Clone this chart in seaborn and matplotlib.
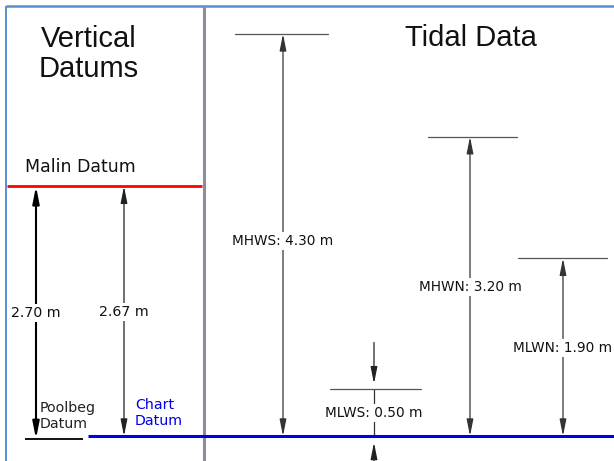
import matplotlib
matplotlib.use("Agg")
import matplotlib.pyplot as plt
import seaborn as sns
import pandas as pd

# ---- data (metres above Chart Datum) ----
datum_names = ["Malin Datum", "Poolbeg Datum", "Chart Datum"]
datum_heights = [2.67, -0.03, 0.0]
offset_labels = ["2.70 m", "2.67 m"]
tide_names = ["MHWS", "MLWS", "MHWN", "MLWN"]
tide_values = [4.30, 0.50, 3.20, 1.90]

# pixel scale of the original drawing
PX_PER_M = 93.5
BASE_PX = 436


def ym(p):
    # pixel row -> metres
    return (BASE_PX - p) / PX_PER_M


sns.set_theme(style="white")
plt.rcParams["font.family"] = ["DejaVu Sans"]

fig = plt.figure(figsize=(6.14, 4.61), dpi=100)
ax = fig.add_axes([0, 0, 1, 1])
ax.set_xlim(0, 614)
ax.set_ylim(ym(461), ym(0))
ax.axis("off")

# ---- frame ----
frame_blue = "#5b8bd0"
ax.plot([6, 6], [ym(6), ym(461)], color=frame_blue, lw=1.4, solid_capstyle="butt")
ax.plot([6, 614], [ym(6), ym(6)], color=frame_blue, lw=1.8, solid_capstyle="butt")
ax.plot([203.5, 203.5], [ym(6), ym(461)], color="#8c8c9c", lw=2.2, solid_capstyle="butt")

# ---- datum lines ----
malin, poolbeg, chart = datum_heights
lines = pd.DataFrame({
    "name": datum_names,
    "x0": [7, 25, 88],
    "x1": [202, 83, 614],
    "h": datum_heights,
    "color": ["#ff0000", "black", "#0000e0"],
    "lw": [2.0, 1.3, 2.2],
})
for _, r in lines.iterrows():
    sns.lineplot(x=[r.x0, r.x1], y=[r.h, r.h], ax=ax, color=r.color,
                 lw=r.lw, solid_capstyle="butt")

# ---- tidal level ticks ----
tick_x = {"MHWS": (235, 328), "MLWS": (330, 421), "MHWN": (428, 517), "MLWN": (518, 607)}
for name, val in zip(tide_names, tide_values):
    x0, x1 = tick_x[name]
    sns.lineplot(x=[x0, x1], y=[val, val], ax=ax, color="#555555", lw=0.9)

arrow_kw = dict(arrowstyle="<|-|>,head_length=1.0,head_width=0.2",
                shrinkA=0, shrinkB=0, mutation_scale=10)
one_kw = dict(arrowstyle="-|>,head_length=1.0,head_width=0.2",
              shrinkA=0, shrinkB=0, mutation_scale=10)
box = dict(facecolor="white", edgecolor="none", pad=1.5)


def dim(x, y0, y1, color, lw):
    ax.annotate("", xy=(x, y1), xytext=(x, y0),
                arrowprops=dict(color=color, lw=lw, **arrow_kw), zorder=2)


# ---- vertical datums panel ----
dim(36, poolbeg, malin, "black", 1.5)
dim(124, chart, malin, "#222222", 0.9)
ax.text(36, ym(313), offset_labels[0], ha="center", va="center", fontsize=10.2,
        color="#111111", bbox=box, zorder=3)
ax.text(124, ym(312), offset_labels[1], ha="center", va="center", fontsize=10.2,
        color="#111111", bbox=box, zorder=3)

ax.text(25, ym(167), datum_names[0], ha="left", va="center", fontsize=12.5, color="#111111")
ax.text(40, ym(416), "Poolbeg\nDatum", ha="left", va="center", fontsize=10.2,
        color="#222222", linespacing=1.1, zorder=3)
ax.text(135, ym(413), "Chart\nDatum", ha="left", va="center", fontsize=10.2,
        color="#0000e0", linespacing=1.1, zorder=3)

ax.text(89, ym(54), "Vertical\nDatums", ha="center", va="center", fontsize=21,
        family="Liberation Sans", color="#111111", linespacing=1.12)
ax.text(471, ym(38), "Tidal Data", ha="center", va="center", fontsize=21,
        family="Liberation Sans", color="#111111")

# ---- tidal data panel ----
tide_x = {"MHWS": 283, "MLWS": 374, "MHWN": 470, "MLWN": 563}
label_y = {"MHWS": 241, "MLWS": 413, "MHWN": 287, "MLWN": 348}
for name, val in zip(tide_names, tide_values):
    x = tide_x[name]
    if name == "MLWS":
        # small range: arrows from outside
        ax.annotate("", xy=(x, val + 0.06), xytext=(x, val + 0.5),
                    arrowprops=dict(color="#222222", lw=0.9, **one_kw), zorder=2)
        ax.annotate("", xy=(x, chart - 0.07), xytext=(x, ym(461)),
                    arrowprops=dict(color="#222222", lw=0.9, **one_kw), zorder=2)
        ax.plot([x, x], [val, chart], color="#333333", lw=0.9, zorder=1)
    else:
        dim(x, chart, val, "#333333", 0.9)
    ax.text(x, ym(label_y[name]), f"{name}: {val:.2f} m", ha="center", va="center",
            fontsize=9.8, color="#111111", bbox=box, zorder=3, clip_on=False)

fig.savefig("out.png", dpi=100)
